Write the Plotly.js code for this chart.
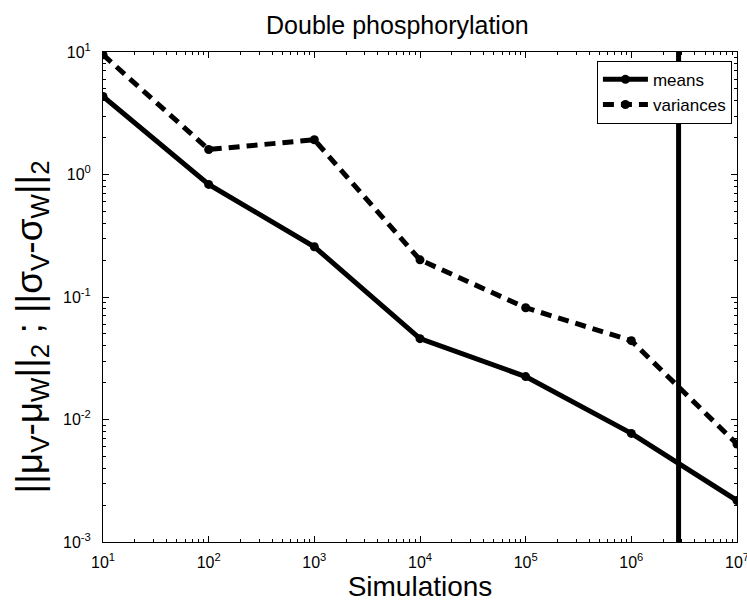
<!DOCTYPE html>
<html><head><meta charset="utf-8">
<script src="https://cdn.plot.ly/plotly-3.0.1.min.js"></script>
<style>html,body{margin:0;padding:0;background:#fff}#chart{width:747px;height:602px}</style>
</head><body><div id="chart"></div>
<script>
const simulations = [1e1, 1e2, 1e3, 1e4, 1e5, 1e6, 1e7];
const meansErr = [4.34, 0.83, 0.257, 0.0457, 0.0224, 0.0077, 0.00218];
const variancesErr = [9.5, 1.6, 1.92, 0.201, 0.0817, 0.044, 0.0063];
const cutoffX = [2.8e6, 2.8e6];
const cutoffY = [1e-3, 1e1];
const xTickVals = [1e1, 1e2, 1e3, 1e4, 1e5, 1e6, 1e7];
const xTickText = ['10<sup>1</sup>', '10<sup>2</sup>', '10<sup>3</sup>', '10<sup>4</sup>', '10<sup>5</sup>', '10<sup>6</sup>', '10<sup>7</sup>'];
const yTickVals = [1e-3, 1e-2, 1e-1, 1e0, 1e1];
const yTickText = ['10<sup>-3</sup>', '10<sup>-2</sup>', '10<sup>-1</sup>', '10<sup>0</sup>', '10<sup>1</sup>'];
const seriesNames = ['means', 'variances'];
const titleText = 'Double phosphorylation';
const xTitle = 'Simulations';
const yTitle = '||μ<sub>V</sub>-μ<sub>W</sub>||<sub>2</sub> ; ||σ<sub>V</sub>-σ<sub>W</sub>||<sub>2</sub>';

function minorTicks(lo, hi) {
  const out = [];
  for (let e = lo; e < hi; e++) for (let m = 2; m <= 9; m++) out.push(m * Math.pow(10, e));
  return out;
}
const FONT = 'Liberation Sans, Arial, Helvetica, sans-serif';

const traces = [
  {x: simulations, y: meansErr, name: seriesNames[0], mode: 'lines+markers',
   line: {color: '#000', width: 5}, marker: {color: '#000', size: 9}},
  {x: simulations, y: variancesErr, name: seriesNames[1], mode: 'lines+markers',
   line: {color: '#000', width: 5, dash: '11px,7px'}, marker: {color: '#000', size: 9}},
  {x: cutoffX, y: cutoffY, mode: 'lines', showlegend: false, hoverinfo: 'skip',
   line: {color: '#000', width: 5}}
];

const axisCommon = {
  showline: true, linecolor: '#000', linewidth: 1, mirror: 'allticks',
  ticks: 'inside', ticklen: 6, tickcolor: '#000', tickwidth: 1,
  showgrid: false, zeroline: false, tickmode: 'array',
  tickfont: {family: FONT, size: 16, color: '#000'}
};

const layout = {
  width: 747, height: 602,
  paper_bgcolor: '#fff', plot_bgcolor: '#fff',
  margin: {l: 103, r: 10, t: 52, b: 60},
  font: {family: FONT, color: '#000'},
  title: {text: titleText, font: {family: FONT, size: 25, color: '#000'},
          xref: 'container', x: 0.532, xanchor: 'center', yref: 'container', y: 0.958, yanchor: 'middle'},
  xaxis: Object.assign({}, axisCommon, {
    type: 'log', range: [1, 7], tickvals: xTickVals, ticktext: xTickText,
    ticklabelstandoff: 6, ticklabeloverflow: 'allow',
    minor: {tickmode: 'array', tickvals: minorTicks(1, 7), ticks: 'inside', ticklen: 3, tickcolor: '#000', showgrid: false},
    title: {text: xTitle, font: {family: FONT, size: 28, color: '#000'}, standoff: 6}
  }),
  yaxis: Object.assign({}, axisCommon, {
    type: 'log', range: [-3, 1], tickvals: yTickVals, ticktext: yTickText,
    ticklabelstandoff: 8,
    minor: {tickmode: 'array', tickvals: minorTicks(-3, 1), ticks: 'inside', ticklen: 3, tickcolor: '#000', showgrid: false}
  }),
  annotations: [{
    text: yTitle, textangle: -90, showarrow: false,
    xref: 'paper', yref: 'paper', x: -0.112, y: 0.44, xanchor: 'center', yanchor: 'middle',
    font: {family: FONT, size: 37, color: '#000'}
  }],
  legend: {x: 0.992, xanchor: 'right', y: 0.982, yanchor: 'top',
           bgcolor: '#fff', bordercolor: '#000', borderwidth: 1, itemwidth: 45,
           font: {family: FONT, size: 17, color: '#000'}},
  showlegend: true
};

Plotly.newPlot('chart', traces, layout, {displayModeBar: false, staticPlot: true});
</script>
</body></html>
